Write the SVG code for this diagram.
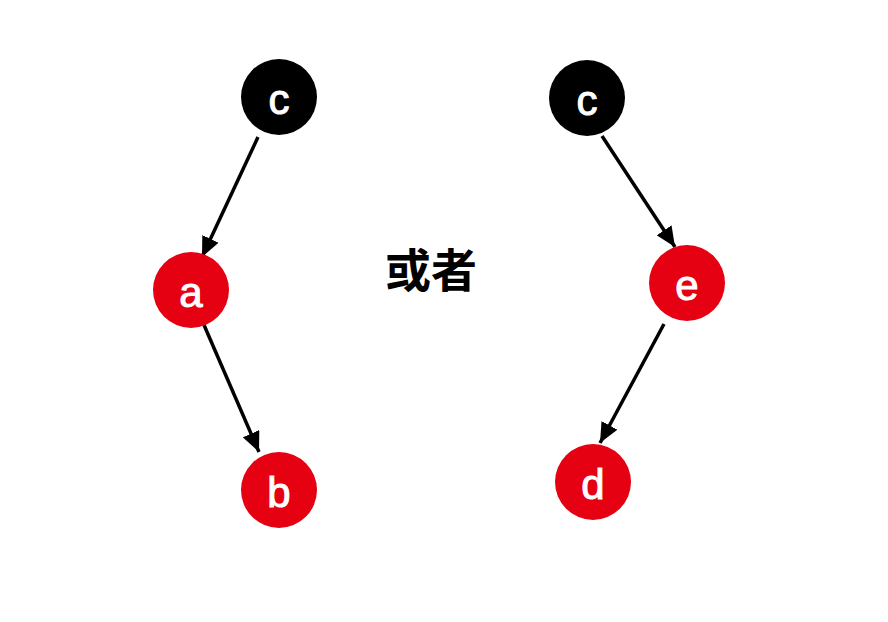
<svg xmlns="http://www.w3.org/2000/svg" width="888" height="622" viewBox="0 0 888 622">
<style>
.black{fill:#000}
.red{fill:#e50012}
.lbl{font-family:"Liberation Sans",Arial,sans-serif;font-size:42px;fill:#fff;stroke:#fff;stroke-width:1;text-anchor:middle;dominant-baseline:central}
.edge{stroke:#000;stroke-width:3.5;fill:none;marker-end:url(#ah)}
.mid{font-family:"Noto Sans CJK SC",sans-serif;font-size:46px;font-weight:bold;fill:#000;text-anchor:middle;dominant-baseline:central}
</style>
<defs>
<marker id="ah" markerUnits="userSpaceOnUse" markerWidth="22" markerHeight="18" refX="20" refY="9" orient="auto">
<path d="M0,0 L20,9 L0,18 Z" fill="#000"/>
</marker>
</defs>
<rect width="888" height="622" fill="#fff"/>
<g id="edges">
<line class="edge" x1="258" y1="137" x2="202" y2="257"/>
<line class="edge" x1="204" y1="325" x2="259" y2="452"/>
<line class="edge" x1="602" y1="136" x2="675" y2="247"/>
<line class="edge" x1="664" y1="324" x2="600" y2="443"/>
</g>
<g id="c1"><circle class="black" cx="279" cy="97" r="38"/><text class="lbl" x="279" y="99">c</text></g>
<g id="a"><circle class="red" cx="191" cy="290" r="38"/><text class="lbl" x="191" y="292">a</text></g>
<g id="b"><circle class="red" cx="279" cy="490" r="38"/><text class="lbl" x="279" y="492">b</text></g>
<g id="c2"><circle class="black" cx="587" cy="98" r="38"/><text class="lbl" x="587" y="100">c</text></g>
<g id="e"><circle class="red" cx="687" cy="283" r="38"/><text class="lbl" x="687" y="285">e</text></g>
<g id="d"><circle class="red" cx="593" cy="482" r="38"/><text class="lbl" x="593" y="484">d</text></g>
<g id="or"><text class="mid" x="431" y="267">或者</text></g>
</svg>
